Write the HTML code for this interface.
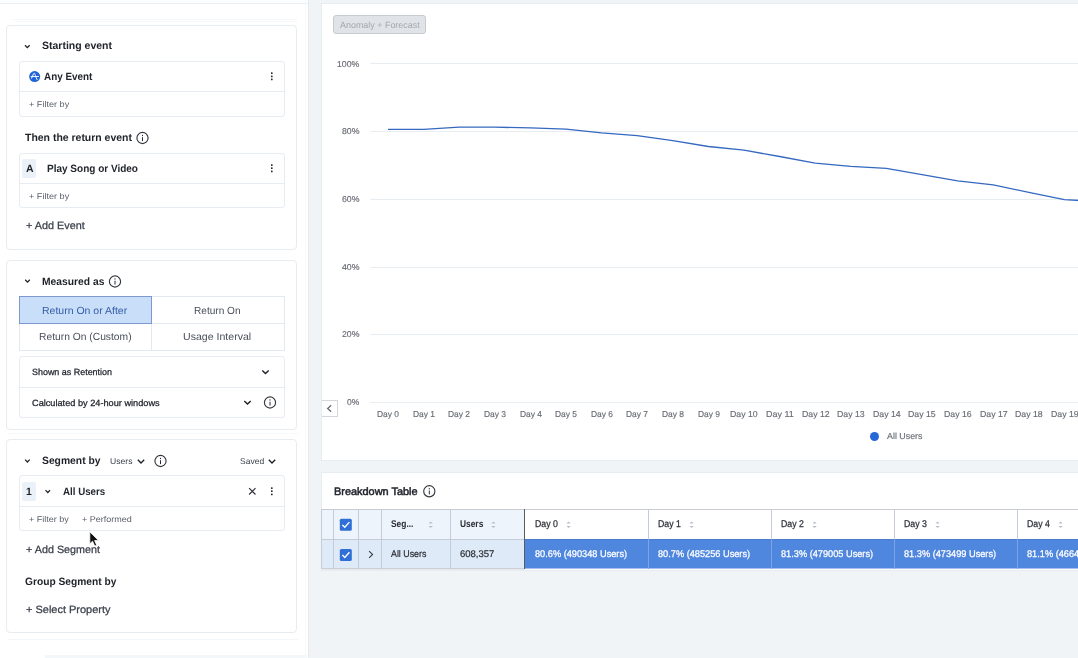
<!DOCTYPE html>
<html lang="en">
<head>
<meta charset="utf-8">
<title>Retention Analysis</title>
<style>
*{box-sizing:border-box;margin:0;padding:0}
html,body{width:1078px;height:658px;overflow:hidden;background:#f0f4f7;font-family:"Liberation Sans",sans-serif;color:#1e2128;font-size:12px}
.abs{position:absolute}
#left{position:absolute;left:0;top:0;width:309px;height:658px;background:#fff;border-right:1px solid #e4eaee;overflow:hidden}
.card{position:absolute;left:6px;width:291px;background:#fff;border:1px solid #e6ecf0;border-radius:4px}
.box{position:absolute;left:19px;width:266px;border:1px solid #e6ecf1;border-radius:3px;background:#fff}
.sep{position:absolute;left:0;right:0;height:1px;background:#e6ecf1}
.t{position:absolute;white-space:nowrap;transform-origin:0 50%;text-rendering:geometricPrecision}
svg{position:absolute;overflow:visible}
#right{position:absolute;left:0;top:0;width:1078px;height:658px;overflow:hidden}
.rcard{position:absolute;background:#fff;border:1px solid #e6ecf0}
</style>
</head>
<body>
<div id="left">
<div class="abs" style="left:0;top:1px;width:308px;height:1px;background:#f8fbfd"></div>
<div class="abs" style="left:0;top:3px;width:308px;height:1px;background:#e9eef2"></div>
<div class="abs" style="left:11px;top:19px;width:286px;height:1px;background:#f5f9fc"></div>
<div class="abs" style="left:15px;top:21px;width:282px;height:1px;background:#f5f9fc"></div>
<div class="abs" style="left:8px;top:433px;width:290px;height:1px;background:#f6f9fc"></div>
<div class="abs" style="left:8px;top:639px;width:290px;height:1px;background:#f4f7fa"></div>
<div class="abs" style="left:45px;top:655px;width:262px;height:3px;background:#f4f7f9"></div>
<div class="abs" style="left:305px;top:0;width:1px;height:658px;background:#f6fafd"></div>
<div class="card" style="top:25px;height:225px"></div>
<div class="t" style="left:41.80px;top:40px;font-size:10.6px;line-height:12px;color:#1e2128;transform:scaleX(0.9904);font-weight:bold;">Starting event</div>
<div class="box" style="top:61px;height:56px"><div class="sep" style="top:29px"></div></div>
<div class="t" style="left:44.00px;top:71px;font-size:10.6px;line-height:12px;color:#23262d;transform:scaleX(0.9338);font-weight:bold;">Any Event</div>
<div class="t" style="left:29.00px;top:99px;font-size:8.4px;line-height:10px;color:#5b606b;transform:scaleX(1.0860);">+ Filter by</div>
<div class="t" style="left:25.00px;top:132px;font-size:10.6px;line-height:12px;color:#1e2128;transform:scaleX(0.9874);font-weight:bold;">Then the return event</div>
<div class="box" style="top:153px;height:55px"><div class="sep" style="top:29px"></div></div>
<div class="abs" style="left:22px;top:158.5px;width:14px;height:19px;background:#eaf1f9;border-radius:2px"></div>
<div class="t" style="left:25.50px;top:163px;font-size:10.6px;line-height:12px;color:#1e2128;transform:scaleX(0.9928);font-weight:bold;">A</div>
<div class="t" style="left:46.80px;top:163px;font-size:10.6px;line-height:12px;color:#23262d;transform:scaleX(0.9440);font-weight:bold;">Play Song or Video</div>
<div class="t" style="left:29.00px;top:191px;font-size:8.4px;line-height:10px;color:#5b606b;transform:scaleX(1.0860);">+ Filter by</div>
<div class="t" style="left:25.50px;top:220px;font-size:10.5px;line-height:12px;color:#3b404b;transform:scaleX(1.0331);-webkit-text-stroke:0.25px #3b404b;">+ Add Event</div>
<div class="card" style="top:260px;height:170px"></div>
<div class="t" style="left:41.80px;top:276px;font-size:10.6px;line-height:12px;color:#1e2128;transform:scaleX(0.9717);font-weight:bold;">Measured as</div>
<div class="abs" style="left:19px;top:296px;width:266px;height:55px;border:1px solid #e3e9ee"></div>
<div class="abs" style="left:19px;top:323px;width:266px;height:1px;background:#e3e9ee"></div>
<div class="abs" style="left:151px;top:296px;width:1px;height:55px;background:#e3e9ee"></div>
<div class="abs" style="left:19px;top:296px;width:133px;height:28px;background:#c9def8;border:1px solid #7d99cf"></div>
<div class="t" style="left:42.40px;top:306px;font-size:10.3px;line-height:11px;color:#345ca8;transform:scaleX(1.0194);">Return On or After</div>
<div class="t" style="left:194.40px;top:306px;font-size:10.3px;line-height:11px;color:#4a4f5a;transform:scaleX(0.9808);">Return On</div>
<div class="t" style="left:38.70px;top:332px;font-size:10.3px;line-height:11px;color:#4a4f5a;transform:scaleX(0.9987);">Return On (Custom)</div>
<div class="t" style="left:183.40px;top:332px;font-size:10.3px;line-height:11px;color:#4a4f5a;transform:scaleX(1.0270);">Usage Interval</div>
<div class="box" style="top:356px;height:62px"><div class="sep" style="top:30px"></div></div>
<div class="t" style="left:31.80px;top:367px;font-size:9px;line-height:10px;color:#23262d;transform:scaleX(0.9932);-webkit-text-stroke:0.25px #23262d;">Shown as Retention</div>
<div class="t" style="left:31.80px;top:398px;font-size:9px;line-height:10px;color:#23262d;transform:scaleX(1.0203);-webkit-text-stroke:0.25px #23262d;">Calculated by 24-hour windows</div>
<div class="card" style="top:439px;height:194px"></div>
<div class="t" style="left:41.90px;top:455px;font-size:10.6px;line-height:12px;color:#1e2128;transform:scaleX(0.9737);font-weight:bold;">Segment by</div>
<div class="t" style="left:110.10px;top:456px;font-size:8.4px;line-height:10px;color:#3b404b;transform:scaleX(1.0258);">Users</div>
<div class="t" style="left:239.70px;top:456px;font-size:8.4px;line-height:10px;color:#3b404b;transform:scaleX(1.0161);">Saved</div>
<div class="box" style="top:475px;height:56px"><div class="sep" style="top:30px"></div></div>
<div class="abs" style="left:22px;top:481.5px;width:14px;height:19px;background:#eaf1f9;border-radius:2px"></div>
<div class="t" style="left:26.00px;top:486px;font-size:10.6px;line-height:12px;color:#1e2128;transform:scaleX(0.9840);font-weight:bold;">1</div>
<div class="t" style="left:63.40px;top:486px;font-size:10.6px;line-height:12px;color:#23262d;transform:scaleX(0.9183);font-weight:bold;">All Users</div>
<div class="t" style="left:29.10px;top:514px;font-size:8.4px;line-height:10px;color:#5b606b;transform:scaleX(1.0779);">+ Filter by</div>
<div class="t" style="left:82.40px;top:514px;font-size:8.4px;line-height:10px;color:#5b606b;transform:scaleX(1.0742);">+ Performed</div>
<div class="t" style="left:25.60px;top:544px;font-size:10.5px;line-height:12px;color:#3b404b;transform:scaleX(1.0278);-webkit-text-stroke:0.25px #3b404b;">+ Add Segment</div>
<div class="t" style="left:24.90px;top:576px;font-size:10.6px;line-height:12px;color:#1e2128;transform:scaleX(0.9650);font-weight:bold;">Group Segment by</div>
<div class="t" style="left:25.60px;top:604px;font-size:10.5px;line-height:12px;color:#3b404b;transform:scaleX(1.0454);-webkit-text-stroke:0.25px #3b404b;">+ Select Property</div>
</div>
<div id="right">
<div class="rcard" style="left:321px;top:3px;width:770px;height:458px"></div>
<div class="abs" style="left:333px;top:15px;width:93px;height:19px;background:#e0e4e8;border:1px solid #c6cbd0;border-radius:3px"></div>
<div class="t" style="left:339.70px;top:20px;font-size:9px;line-height:10px;color:#a3a8ae;transform:scaleX(0.9928);">Anomaly + Forecast</div>
<div class="abs" style="left:370px;top:62.7px;width:708px;height:1px;background:#e8edf1"></div>
<div class="t" style="left:336.80px;top:59px;font-size:8.5px;line-height:10px;color:#686c74;transform:scaleX(1.0258);-webkit-text-stroke:0.15px #686c74;">100%</div>
<div class="abs" style="left:370px;top:130.8px;width:708px;height:1px;background:#e8edf1"></div>
<div class="t" style="left:341.60px;top:126px;font-size:8.5px;line-height:10px;color:#686c74;transform:scaleX(1.0287);-webkit-text-stroke:0.15px #686c74;">80%</div>
<div class="abs" style="left:370px;top:198.7px;width:708px;height:1px;background:#e8edf1"></div>
<div class="t" style="left:341.60px;top:194px;font-size:8.5px;line-height:10px;color:#686c74;transform:scaleX(1.0287);-webkit-text-stroke:0.15px #686c74;">60%</div>
<div class="abs" style="left:370px;top:266.5px;width:708px;height:1px;background:#e8edf1"></div>
<div class="t" style="left:341.60px;top:262px;font-size:8.5px;line-height:10px;color:#686c74;transform:scaleX(1.0287);-webkit-text-stroke:0.15px #686c74;">40%</div>
<div class="abs" style="left:370px;top:334.3px;width:708px;height:1px;background:#e8edf1"></div>
<div class="t" style="left:341.60px;top:329px;font-size:8.5px;line-height:10px;color:#686c74;transform:scaleX(1.0287);-webkit-text-stroke:0.15px #686c74;">20%</div>
<div class="abs" style="left:370px;top:401.5px;width:708px;height:1px;background:#e8edf1"></div>
<div class="t" style="left:346.80px;top:397px;font-size:8.5px;line-height:10px;color:#686c74;transform:scaleX(1.0012);-webkit-text-stroke:0.15px #686c74;">0%</div>
<div class="t" style="left:377.20px;top:409px;font-size:8.6px;line-height:10px;color:#686c74;transform:scaleX(0.9793);-webkit-text-stroke:0.15px #686c74;">Day 0</div>
<div class="t" style="left:412.80px;top:409px;font-size:8.6px;line-height:10px;color:#686c74;transform:scaleX(0.9793);-webkit-text-stroke:0.15px #686c74;">Day 1</div>
<div class="t" style="left:448.40px;top:409px;font-size:8.6px;line-height:10px;color:#686c74;transform:scaleX(0.9793);-webkit-text-stroke:0.15px #686c74;">Day 2</div>
<div class="t" style="left:484.00px;top:409px;font-size:8.6px;line-height:10px;color:#686c74;transform:scaleX(0.9793);-webkit-text-stroke:0.15px #686c74;">Day 3</div>
<div class="t" style="left:519.60px;top:409px;font-size:8.6px;line-height:10px;color:#686c74;transform:scaleX(0.9793);-webkit-text-stroke:0.15px #686c74;">Day 4</div>
<div class="t" style="left:555.20px;top:409px;font-size:8.6px;line-height:10px;color:#686c74;transform:scaleX(0.9793);-webkit-text-stroke:0.15px #686c74;">Day 5</div>
<div class="t" style="left:590.80px;top:409px;font-size:8.6px;line-height:10px;color:#686c74;transform:scaleX(0.9793);-webkit-text-stroke:0.15px #686c74;">Day 6</div>
<div class="t" style="left:626.40px;top:409px;font-size:8.6px;line-height:10px;color:#686c74;transform:scaleX(0.9793);-webkit-text-stroke:0.15px #686c74;">Day 7</div>
<div class="t" style="left:662.00px;top:409px;font-size:8.6px;line-height:10px;color:#686c74;transform:scaleX(0.9793);-webkit-text-stroke:0.15px #686c74;">Day 8</div>
<div class="t" style="left:697.60px;top:409px;font-size:8.6px;line-height:10px;color:#686c74;transform:scaleX(0.9793);-webkit-text-stroke:0.15px #686c74;">Day 9</div>
<div class="t" style="left:730.35px;top:409px;font-size:8.6px;line-height:10px;color:#686c74;transform:scaleX(1.0166);-webkit-text-stroke:0.15px #686c74;">Day 10</div>
<div class="t" style="left:765.95px;top:409px;font-size:8.6px;line-height:10px;color:#686c74;transform:scaleX(1.0410);-webkit-text-stroke:0.15px #686c74;">Day 11</div>
<div class="t" style="left:801.55px;top:409px;font-size:8.6px;line-height:10px;color:#686c74;transform:scaleX(1.0166);-webkit-text-stroke:0.15px #686c74;">Day 12</div>
<div class="t" style="left:837.15px;top:409px;font-size:8.6px;line-height:10px;color:#686c74;transform:scaleX(1.0166);-webkit-text-stroke:0.15px #686c74;">Day 13</div>
<div class="t" style="left:872.75px;top:409px;font-size:8.6px;line-height:10px;color:#686c74;transform:scaleX(1.0166);-webkit-text-stroke:0.15px #686c74;">Day 14</div>
<div class="t" style="left:908.35px;top:409px;font-size:8.6px;line-height:10px;color:#686c74;transform:scaleX(1.0166);-webkit-text-stroke:0.15px #686c74;">Day 15</div>
<div class="t" style="left:943.95px;top:409px;font-size:8.6px;line-height:10px;color:#686c74;transform:scaleX(1.0166);-webkit-text-stroke:0.15px #686c74;">Day 16</div>
<div class="t" style="left:979.55px;top:409px;font-size:8.6px;line-height:10px;color:#686c74;transform:scaleX(1.0166);-webkit-text-stroke:0.15px #686c74;">Day 17</div>
<div class="t" style="left:1015.15px;top:409px;font-size:8.6px;line-height:10px;color:#686c74;transform:scaleX(1.0166);-webkit-text-stroke:0.15px #686c74;">Day 18</div>
<div class="t" style="left:1050.75px;top:409px;font-size:8.6px;line-height:10px;color:#686c74;transform:scaleX(1.0166);-webkit-text-stroke:0.15px #686c74;">Day 19</div>
<div class="abs" style="left:869.8px;top:431.5px;width:9.4px;height:9.4px;border-radius:50%;background:#2668d8"></div>
<div class="t" style="left:886.70px;top:431px;font-size:8.8px;line-height:10px;color:#686c74;transform:scaleX(1.0084);-webkit-text-stroke:0.15px #686c74;">All Users</div>
<div class="abs" style="left:322px;top:400px;width:15.5px;height:17px;background:#fff;border:1px solid #d5d5db;border-left:none"></div>
<div class="rcard" style="left:321px;top:472px;width:770px;height:99px"></div>
<div class="t" style="left:334.40px;top:486px;font-size:10.8px;line-height:12px;color:#1e2128;transform:scaleX(1.0115);-webkit-text-stroke:0.5px #1e2128;">Breakdown Table</div>
<div class="abs" style="left:321px;top:509px;width:204px;height:31px;background:#eef4fb"></div>
<div class="abs" style="left:321px;top:539px;width:204px;height:30px;background:#dfeaf8"></div>
<div class="abs" style="left:524px;top:539px;width:560px;height:29px;background:#4f86de"></div>
<div class="abs" style="left:524px;top:568px;width:560px;height:1px;background:#a3bfee"></div>
<div class="abs" style="left:321px;top:509px;width:760px;height:1px;background:#c8ccd2"></div>
<div class="abs" style="left:321px;top:539px;width:204px;height:1px;background:#c4ccda"></div>
<div class="abs" style="left:524px;top:539px;width:560px;height:1px;background:#4a7bd0"></div>
<div class="abs" style="left:321px;top:568px;width:204px;height:1px;background:#cbd0d7"></div>
<div class="abs" style="left:321px;top:569px;width:204px;height:1px;background:#e8ebee"></div>
<div class="abs" style="left:321px;top:509px;width:1px;height:60px;background:#c4ccda"></div>
<div class="abs" style="left:333px;top:509px;width:1px;height:60px;background:#c4ccda"></div>
<div class="abs" style="left:358px;top:509px;width:1px;height:60px;background:#c4ccda"></div>
<div class="abs" style="left:381px;top:509px;width:1px;height:60px;background:#c4ccda"></div>
<div class="abs" style="left:450px;top:509px;width:1px;height:60px;background:#c4ccda"></div>
<div class="abs" style="left:648px;top:509px;width:1px;height:30px;background:#c4ccda"></div>
<div class="abs" style="left:648px;top:539px;width:1px;height:30px;background:#7fa3e4"></div>
<div class="abs" style="left:771px;top:509px;width:1px;height:30px;background:#c4ccda"></div>
<div class="abs" style="left:771px;top:539px;width:1px;height:30px;background:#7fa3e4"></div>
<div class="abs" style="left:894px;top:509px;width:1px;height:30px;background:#c4ccda"></div>
<div class="abs" style="left:894px;top:539px;width:1px;height:30px;background:#7fa3e4"></div>
<div class="abs" style="left:1016.5px;top:509px;width:1px;height:30px;background:#c4ccda"></div>
<div class="abs" style="left:1016.5px;top:539px;width:1px;height:30px;background:#7fa3e4"></div>
<div class="abs" style="left:523.5px;top:509px;width:1.5px;height:60px;background:#555a63"></div>
<div class="t" style="left:390.80px;top:519px;font-size:9.8px;line-height:11px;color:#2a2d34;transform:scaleX(0.8569);font-weight:bold;">Seg...</div>
<div class="t" style="left:460.00px;top:519px;font-size:9.8px;line-height:11px;color:#2a2d34;transform:scaleX(0.8553);font-weight:bold;">Users</div>
<div class="t" style="left:390.80px;top:549px;font-size:9.7px;line-height:11px;color:#2a2d34;transform:scaleX(0.9123);-webkit-text-stroke:0.2px #2a2d34;">All Users</div>
<div class="t" style="left:460.00px;top:549px;font-size:9.7px;line-height:11px;color:#2a2d34;transform:scaleX(0.9812);-webkit-text-stroke:0.2px #2a2d34;">608,357</div>
<div class="t" style="left:534.70px;top:519px;font-size:9.8px;line-height:11px;color:#2a2d34;transform:scaleX(0.8906);-webkit-text-stroke:0.25px #2a2d34;">Day 0</div>
<div class="t" style="left:534.70px;top:549px;font-size:9.7px;line-height:11px;color:#fff;transform:scaleX(0.9501);-webkit-text-stroke:0.25px #fff;">80.6% (490348 Users)</div>
<div class="t" style="left:657.70px;top:519px;font-size:9.8px;line-height:11px;color:#2a2d34;transform:scaleX(0.8906);-webkit-text-stroke:0.25px #2a2d34;">Day 1</div>
<div class="t" style="left:657.70px;top:549px;font-size:9.7px;line-height:11px;color:#fff;transform:scaleX(0.9501);-webkit-text-stroke:0.25px #fff;">80.7% (485256 Users)</div>
<div class="t" style="left:780.70px;top:519px;font-size:9.8px;line-height:11px;color:#2a2d34;transform:scaleX(0.8906);-webkit-text-stroke:0.25px #2a2d34;">Day 2</div>
<div class="t" style="left:780.70px;top:549px;font-size:9.7px;line-height:11px;color:#fff;transform:scaleX(0.9501);-webkit-text-stroke:0.25px #fff;">81.3% (479005 Users)</div>
<div class="t" style="left:903.70px;top:519px;font-size:9.8px;line-height:11px;color:#2a2d34;transform:scaleX(0.8906);-webkit-text-stroke:0.25px #2a2d34;">Day 3</div>
<div class="t" style="left:903.70px;top:549px;font-size:9.7px;line-height:11px;color:#fff;transform:scaleX(0.9501);-webkit-text-stroke:0.25px #fff;">81.3% (473499 Users)</div>
<div class="t" style="left:1026.70px;top:519px;font-size:9.8px;line-height:11px;color:#2a2d34;transform:scaleX(0.8906);-webkit-text-stroke:0.25px #2a2d34;">Day 4</div>
<div class="t" style="left:1026.70px;top:549px;font-size:9.7px;line-height:11px;color:#fff;transform:scaleX(0.9501);-webkit-text-stroke:0.25px #fff;">81.1% (466402 Users)</div>
</div>
<svg style="left:0;top:0" width="1078" height="658" viewBox="0 0 1078 658">
<g transform="translate(24,44.3)"><path d="M1 1 L3.3 3.4 L5.6 1" fill="none" stroke="#1e2128" stroke-width="1.25"/></g>
<g transform="translate(28.65,70.55)"><circle cx="6" cy="6" r="5.5" fill="#2166d8"/><path d="M2.5 5.95 H9.8 M2.95 7.65 C3.8 6 4.7 2.6 5.55 2.6 C6.4 2.6 7 6.8 8.45 9.1" fill="none" stroke="#fff" stroke-width="0.95" stroke-linecap="round"/></g>
<g transform="translate(270.3,70.8)"><rect x="0.65" y="1.55" width="1.7" height="1.7" rx="0.5" fill="#2a2d34"/><rect x="0.65" y="4.65" width="1.7" height="1.7" rx="0.5" fill="#2a2d34"/><rect x="0.65" y="7.75" width="1.7" height="1.7" rx="0.5" fill="#2a2d34"/></g>
<g transform="translate(136,131.5)"><circle cx="6.5" cy="6.5" r="5.6" fill="none" stroke="#34383f" stroke-width="1.15"/><rect x="6" y="5.7" width="1" height="3.9" fill="#2a2d34"/><rect x="6" y="3.3" width="1" height="1.3" fill="#2a2d34"/></g>
<g transform="translate(270.3,162.7)"><rect x="0.65" y="1.55" width="1.7" height="1.7" rx="0.5" fill="#2a2d34"/><rect x="0.65" y="4.65" width="1.7" height="1.7" rx="0.5" fill="#2a2d34"/><rect x="0.65" y="7.75" width="1.7" height="1.7" rx="0.5" fill="#2a2d34"/></g>
<g transform="translate(24.2,278.8)"><path d="M1 1 L3.3 3.4 L5.6 1" fill="none" stroke="#1e2128" stroke-width="1.25"/></g>
<g transform="translate(108.5,275)"><circle cx="6.5" cy="6.5" r="5.6" fill="none" stroke="#34383f" stroke-width="1.15"/><rect x="6" y="5.7" width="1" height="3.9" fill="#2a2d34"/><rect x="6" y="3.3" width="1" height="1.3" fill="#2a2d34"/></g>
<g transform="translate(261.3,369.4)"><path d="M1 1 L4.2 4.2 L7.4 1" fill="none" stroke="#1e2128" stroke-width="1.4"/></g>
<g transform="translate(243.3,399.9)"><path d="M1 1 L4.2 4.2 L7.4 1" fill="none" stroke="#1e2128" stroke-width="1.4"/></g>
<g transform="translate(263.5,396)"><circle cx="6.5" cy="6.5" r="5.6" fill="none" stroke="#34383f" stroke-width="1.15"/><rect x="6" y="5.7" width="1" height="3.9" fill="#2a2d34"/><rect x="6" y="3.3" width="1" height="1.3" fill="#2a2d34"/></g>
<g transform="translate(24.1,458.6)"><path d="M1 1 L3.3 3.4 L5.6 1" fill="none" stroke="#1e2128" stroke-width="1.25"/></g>
<g transform="translate(136.8,458.7)"><path d="M1 1 L4.2 4.2 L7.4 1" fill="none" stroke="#1e2128" stroke-width="1.4"/></g>
<g transform="translate(154,454.5)"><circle cx="6.5" cy="6.5" r="5.6" fill="none" stroke="#34383f" stroke-width="1.15"/><rect x="6" y="5.7" width="1" height="3.9" fill="#2a2d34"/><rect x="6" y="3.3" width="1" height="1.3" fill="#2a2d34"/></g>
<g transform="translate(267.8,458.7)"><path d="M1 1 L4.2 4.2 L7.4 1" fill="none" stroke="#1e2128" stroke-width="1.4"/></g>
<g transform="translate(44.5,489.1)"><path d="M1 1 L3.3 3.4 L5.6 1" fill="none" stroke="#1e2128" stroke-width="1.25"/></g>
<g transform="translate(248.3,487.3)"><path d="M0.8 0.8 L7.2 7.2 M7.2 0.8 L0.8 7.2" fill="none" stroke="#2a2d34" stroke-width="1.1"/></g>
<g transform="translate(270.3,485.7)"><rect x="0.65" y="1.55" width="1.7" height="1.7" rx="0.5" fill="#2a2d34"/><rect x="0.65" y="4.65" width="1.7" height="1.7" rx="0.5" fill="#2a2d34"/><rect x="0.65" y="7.75" width="1.7" height="1.7" rx="0.5" fill="#2a2d34"/></g>
<g transform="translate(89.3,531.3)"><path d="M0.5 0.5 L0.5 12.5 L3.3 9.9 L5.4 14.8 L7.4 13.9 L5.3 9.2 L9.2 9.2 Z" fill="#111" stroke="#fff" stroke-width="0.8"/></g>
<g transform="translate(0,0)"><polyline points="388.0,129.4 423.6,129.4 459.2,127.2 494.8,127.2 530.4,127.9 566.0,129.1 601.6,132.8 637.2,135.7 672.8,140.6 708.4,146.5 744.0,150.2 779.6,156.5 815.2,163.1 850.8,166.4 886.4,168.3 922.0,174.6 957.6,180.8 993.2,184.9 1028.8,192.3 1064.4,199.7 1080,200.5" fill="none" stroke="#3568c0" stroke-width="1.3" stroke-linejoin="round"/></g>
<g transform="translate(326,404.4)"><path d="M5.2 0.9 L1.6 4.1 L5.2 7.3" fill="none" stroke="#62676f" stroke-width="1.2"/></g>
<g transform="translate(422.8,484.8)"><circle cx="6.5" cy="6.5" r="5.6" fill="none" stroke="#34383f" stroke-width="1.15"/><rect x="6" y="5.7" width="1" height="3.9" fill="#2a2d34"/><rect x="6" y="3.3" width="1" height="1.3" fill="#2a2d34"/></g>
<g transform="translate(339.8,518.7)"><rect width="12" height="12" rx="1.5" fill="#2f6fd6"/><path d="M2.6 6.2 L5 8.5 L9.6 3.4" fill="none" stroke="#fff" stroke-width="1.4"/></g>
<g transform="translate(339.8,548.9)"><rect width="12" height="12" rx="1.5" fill="#2f6fd6"/><path d="M2.6 6.2 L5 8.5 L9.6 3.4" fill="none" stroke="#fff" stroke-width="1.4"/></g>
<g transform="translate(367.5,550)"><path d="M1.6 1.1 L5.1 4.5 L1.6 7.9" fill="none" stroke="#3a3f49" stroke-width="1.1"/></g>
<g transform="translate(427.7,519.4)"><path d="M0.8 4.2 L3 2.1 L5.2 4.2 Z M0.8 6.6 L3 8.7 L5.2 6.6 Z" fill="#b9bfc8"/></g>
<g transform="translate(490.4,519.4)"><path d="M0.8 4.2 L3 2.1 L5.2 4.2 Z M0.8 6.6 L3 8.7 L5.2 6.6 Z" fill="#b9bfc8"/></g>
<g transform="translate(565.6,519.4)"><path d="M0.8 4.2 L3 2.1 L5.2 4.2 Z M0.8 6.6 L3 8.7 L5.2 6.6 Z" fill="#b9bfc8"/></g>
<g transform="translate(688.6,519.4)"><path d="M0.8 4.2 L3 2.1 L5.2 4.2 Z M0.8 6.6 L3 8.7 L5.2 6.6 Z" fill="#b9bfc8"/></g>
<g transform="translate(811.6,519.4)"><path d="M0.8 4.2 L3 2.1 L5.2 4.2 Z M0.8 6.6 L3 8.7 L5.2 6.6 Z" fill="#b9bfc8"/></g>
<g transform="translate(934.6,519.4)"><path d="M0.8 4.2 L3 2.1 L5.2 4.2 Z M0.8 6.6 L3 8.7 L5.2 6.6 Z" fill="#b9bfc8"/></g>
<g transform="translate(1057.6,519.4)"><path d="M0.8 4.2 L3 2.1 L5.2 4.2 Z M0.8 6.6 L3 8.7 L5.2 6.6 Z" fill="#b9bfc8"/></g>
</svg>
</body>
</html>
